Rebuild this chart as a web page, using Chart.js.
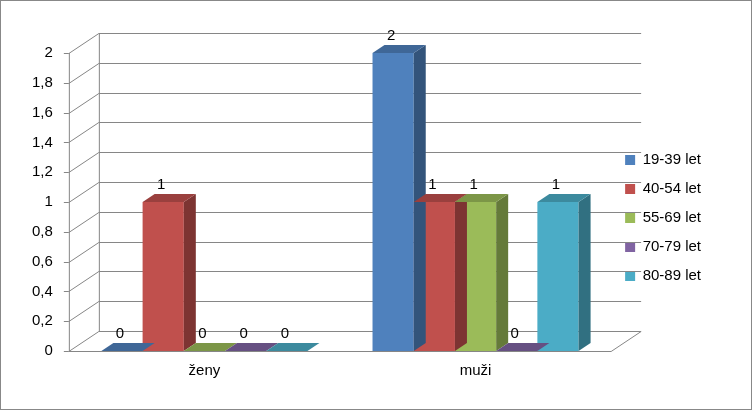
<!DOCTYPE html>
<html><head><meta charset="utf-8">
<script src="https://cdn.jsdelivr.net/npm/chart.js@4"></script>
<style>html,body{margin:0;padding:0;background:#fff}
#wrap{position:absolute;left:0;top:0;width:750px;height:408px;border:1px solid #888}
</style></head><body><div id="wrap"><canvas id="c" width="750" height="408"></canvas></div>
<script>
const categories = ["ženy", "muži"];
const seriesNames = ["19-39 let", "40-54 let", "55-69 let", "70-79 let", "80-89 let"];
const v1939 = [0, 2];
const v4054 = [1, 1];
const v5569 = [0, 1];
const v7079 = [0, 0];
const v8089 = [0, 1];
const yTicks = [0,0.2,0.4,0.6,0.8,1,1.2,1.4,1.6,1.8,2];
const colors = ["#4F81BD","#C0504D","#9BBB59","#8064A2","#4BACC6"];
const allVals = [v1939, v4054, v5569, v7079, v8089];

function shade(hex, f){const n=parseInt(hex.slice(1),16);let r=(n>>16)&255,g=(n>>8)&255,b=n&255;
return `rgb(${Math.round(r*f)},${Math.round(g*f)},${Math.round(b*f)})`;}
const WX=30, WY=-20, BX=12, BY=-8;
const threeD = {
  id:'threeD',
  beforeDatasetsDraw(chart){
    const ctx=chart.ctx, y=chart.scales.y, a=chart.chartArea;
    ctx.save(); ctx.strokeStyle='#868686'; ctx.lineWidth=1;
    yTicks.forEach(v=>{const py=Math.round(y.getPixelForValue(v))+0.5;
      ctx.beginPath(); ctx.moveTo(a.left-5,py); ctx.lineTo(a.left,py); ctx.lineTo(a.left+WX,py+WY); ctx.lineTo(a.right+WX,py+WY); ctx.stroke();});
    const t=y.getPixelForValue(2), b=Math.round(y.getPixelForValue(0))+0.5;
    ctx.beginPath(); ctx.moveTo(a.left+0.5,t); ctx.lineTo(a.left+0.5,b);
    ctx.moveTo(a.left+WX+0.5,t+WY); ctx.lineTo(a.left+WX+0.5,b+WY);
    ctx.moveTo(a.left,b); ctx.lineTo(a.right,b); ctx.lineTo(a.right+WX,b+WY);
    ctx.stroke(); ctx.restore();
  },
  afterDatasetsDraw(chart){
    const ctx=chart.ctx; ctx.save();
    chart.data.datasets.forEach((ds,i)=>{
      chart.getDatasetMeta(i).data.forEach((bar,j)=>{
        const l=bar.x-bar.width/2, r=bar.x+bar.width/2, top=bar.y, base=bar.base;
        ctx.fillStyle=shade(colors[i],0.65);
        ctx.beginPath(); ctx.moveTo(r,top); ctx.lineTo(r+BX,top+BY); ctx.lineTo(r+BX,base+BY); ctx.lineTo(r,base); ctx.fill();
        ctx.fillStyle=shade(colors[i],0.8);
        ctx.beginPath(); ctx.moveTo(l,top); ctx.lineTo(l+BX,top+BY); ctx.lineTo(r+BX,top+BY); ctx.lineTo(r,top); ctx.fill();
        ctx.fillStyle='#000'; ctx.font='15px "Liberation Sans"'; ctx.textAlign='center'; ctx.textBaseline='bottom';
        ctx.fillText(String(allVals[i][j]), bar.x-2, top+BY-2);
      });
    });
    ctx.restore();
  }
};
new Chart(document.getElementById('c'),{
  type:'bar',
  data:{labels:categories, datasets:seriesNames.map((n,i)=>({label:n,data:allVals[i],backgroundColor:colors[i],borderWidth:0,categoryPercentage:0.76,barPercentage:1}))},
  options:{responsive:false,animation:false,
    layout:{padding:{top:52,left:23,right:40,bottom:26}},
    plugins:{legend:{position:'right',labels:{boxWidth:10,boxHeight:10,padding:14,color:'#000',font:{family:'Liberation Sans',size:15}}},tooltip:{enabled:false}},
    scales:{
      x:{grid:{display:false},border:{display:false},ticks:{color:'#000',font:{family:'Liberation Sans',size:15}}},
      y:{min:0,max:2,afterBuildTicks(s){s.ticks=yTicks.map(v=>({value:v}));},grid:{display:false},border:{display:false},
        ticks:{color:'#000',padding:8,font:{family:'Liberation Sans',size:15},callback:v=>String(v).replace('.',',')}}
    },
    afterLayout:null},
  plugins:[threeD,{id:'legendMove',afterLayout(c){}}]
});
</script></body></html>
